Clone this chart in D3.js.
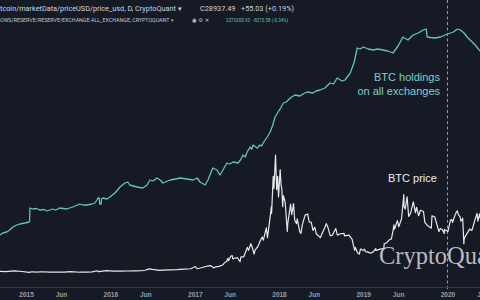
<!DOCTYPE html>
<html>
<head>
<meta charset="utf-8">
<script src="https://cdn.jsdelivr.net/npm/d3@7"></script>
<style>
  html, body { margin: 0; padding: 0; background: #161a25; }
  svg { display: block; }
</style>
</head>
<body>
<div id="chart"></div>
<script>
// BTC held on all exchanges (reserve)
const holdings = [
  ["2014-09-10", 550000], ["2014-09-22", 570000], ["2014-10-09", 580000], ["2014-10-22", 600000],
  ["2014-11-05", 630000], ["2014-11-22", 650000], ["2014-12-05", 660000], ["2014-12-27", 670000],
  ["2015-01-14", 680000], ["2015-01-16", 690000], ["2015-01-18", 820000], ["2015-02-01", 810000],
  ["2015-02-15", 815000], ["2015-03-01", 800000], ["2015-03-20", 805000], ["2015-04-01", 790000],
  ["2015-04-26", 810000], ["2015-05-10", 800000], ["2015-05-26", 820000], ["2015-06-26", 810000],
  ["2015-07-22", 830000], ["2015-08-22", 860000], ["2015-09-04", 850000], ["2015-09-21", 850000],
  ["2015-10-13", 860000], ["2015-10-26", 870000], ["2015-11-04", 900000], ["2015-11-08", 920000],
  ["2015-11-14", 920000], ["2015-11-16", 860000], ["2015-11-22", 860000], ["2015-11-24", 910000],
  ["2015-11-30", 920000], ["2015-12-17", 910000], ["2015-12-30", 930000], ["2016-01-21", 970000],
  ["2016-02-12", 1030000], ["2016-03-04", 1070000], ["2016-03-17", 1080000], ["2016-03-25", 1050000],
  ["2016-04-25", 1030000], ["2016-05-21", 1020000], ["2016-06-08", 1050000], ["2016-06-21", 1100000],
  ["2016-07-05", 1090000], ["2016-07-21", 1120000], ["2016-08-04", 1100000], ["2016-08-16", 1070000],
  ["2016-09-16", 1100000], ["2016-10-10", 1110000], ["2016-10-29", 1120000], ["2016-11-28", 1110000],
  ["2016-12-24", 1100000], ["2017-01-11", 1120000], ["2017-01-24", 1080000], ["2017-02-15", 1050000],
  ["2017-02-27", 1100000], ["2017-03-20", 1220000], ["2017-04-07", 1200000], ["2017-04-20", 1150000],
  ["2017-05-03", 1200000], ["2017-05-20", 1270000], ["2017-06-01", 1260000], ["2017-06-16", 1280000],
  ["2017-07-07", 1270000], ["2017-07-18", 1300000], ["2017-07-29", 1350000], ["2017-08-08", 1330000],
  ["2017-08-16", 1380000], ["2017-08-29", 1430000], ["2017-09-05", 1410000], ["2017-09-11", 1450000],
  ["2017-09-28", 1420000], ["2017-10-11", 1450000], ["2017-10-18", 1440000], ["2017-10-24", 1470000],
  ["2017-11-11", 1530000], ["2017-11-24", 1580000], ["2017-12-05", 1650000], ["2017-12-15", 1730000],
  ["2017-12-28", 1780000], ["2018-01-08", 1820000], ["2018-01-20", 1870000], ["2018-02-01", 1880000],
  ["2018-02-10", 1900000], ["2018-02-25", 1930000], ["2018-03-11", 1950000], ["2018-04-02", 1940000],
  ["2018-04-15", 1960000], ["2018-05-02", 1980000], ["2018-05-28", 1970000], ["2018-06-10", 1990000],
  ["2018-06-28", 2000000], ["2018-07-19", 2020000], ["2018-08-10", 2070000], ["2018-08-25", 2060000],
  ["2018-09-10", 2120000], ["2018-10-01", 2090000], ["2018-10-14", 2100000], ["2018-11-06", 2170000],
  ["2018-11-23", 2280000], ["2018-12-06", 2420000], ["2018-12-18", 2410000], ["2019-01-02", 2430000],
  ["2019-01-23", 2410000], ["2019-02-13", 2400000], ["2019-03-05", 2410000], ["2019-03-27", 2400000],
  ["2019-04-18", 2390000], ["2019-05-10", 2370000], ["2019-06-01", 2440000], ["2019-06-22", 2530000],
  ["2019-07-14", 2500000], ["2019-08-05", 2550000], ["2019-08-27", 2570000], ["2019-09-18", 2600000],
  ["2019-10-01", 2610000], ["2019-10-05", 2530000], ["2019-10-20", 2525000], ["2019-11-09", 2520000],
  ["2019-12-01", 2530000], ["2020-01-01", 2560000], ["2020-01-27", 2580000], ["2020-02-13", 2610000],
  ["2020-02-26", 2600000], ["2020-03-13", 2570000], ["2020-03-26", 2530000], ["2020-04-17", 2480000],
  ["2020-05-04", 2440000], ["2020-05-21", 2390000]
];

// BTC price in USD
const price = [
  ["2014-09-10", 350], ["2014-10-05", 320], ["2014-11-12", 420], ["2014-12-15", 330],
  ["2015-01-14", 180], ["2015-01-26", 290], ["2015-02-15", 240], ["2015-03-10", 290],
  ["2015-04-14", 220], ["2015-05-15", 240], ["2015-06-15", 230], ["2015-07-12", 310],
  ["2015-08-24", 210], ["2015-09-15", 230], ["2015-10-15", 260], ["2015-11-04", 450],
  ["2015-11-11", 310], ["2015-12-16", 460], ["2016-01-15", 380], ["2016-02-15", 400],
  ["2016-03-15", 415], ["2016-04-15", 430], ["2016-05-15", 455], ["2016-05-31", 530],
  ["2016-06-17", 760], ["2016-07-01", 670], ["2016-08-02", 520], ["2016-08-15", 570],
  ["2016-09-15", 610], ["2016-10-15", 640], ["2016-11-15", 710], ["2016-12-15", 780],
  ["2017-01-04", 1150], ["2017-01-11", 780], ["2017-01-25", 900], ["2017-02-23", 1200],
  ["2017-03-10", 1300], ["2017-03-24", 930], ["2017-04-01", 1080], ["2017-04-15", 1180],
  ["2017-04-30", 1350], ["2017-05-10", 1750], ["2017-05-20", 2050], ["2017-05-25", 2500],
  ["2017-05-27", 2100], ["2017-06-06", 2850], ["2017-06-12", 2950], ["2017-06-15", 2400],
  ["2017-06-25", 2550], ["2017-07-05", 2600], ["2017-07-16", 1930], ["2017-07-20", 2750],
  ["2017-08-01", 2750], ["2017-08-08", 3400], ["2017-08-17", 4300], ["2017-08-22", 3800],
  ["2017-09-01", 4900], ["2017-09-08", 4200], ["2017-09-15", 3200], ["2017-09-20", 3900],
  ["2017-10-01", 4400], ["2017-10-12", 5400], ["2017-10-20", 6000], ["2017-10-25", 5500],
  ["2017-11-07", 7500], ["2017-11-12", 5900], ["2017-11-20", 8200], ["2017-11-29", 11000],
  ["2017-11-30", 9900], ["2017-12-07", 16000], ["2017-12-10", 14000], ["2017-12-17", 19500],
  ["2017-12-22", 13800], ["2017-12-26", 16000], ["2017-12-30", 12600], ["2018-01-06", 17100],
  ["2018-01-10", 14500], ["2018-01-13", 14000], ["2018-01-17", 11000], ["2018-01-20", 12800],
  ["2018-01-28", 11700], ["2018-02-02", 8900], ["2018-02-06", 6900], ["2018-02-08", 8200],
  ["2018-02-20", 11400], ["2018-02-25", 9700], ["2018-03-05", 11500], ["2018-03-10", 8800],
  ["2018-03-18", 8200], ["2018-03-21", 9000], ["2018-04-01", 6900], ["2018-04-06", 6600],
  ["2018-04-12", 8000], ["2018-04-24", 9600], ["2018-05-05", 9800], ["2018-05-12", 8500],
  ["2018-05-21", 8400], ["2018-05-28", 7100], ["2018-06-05", 7600], ["2018-06-12", 6500],
  ["2018-06-24", 6100], ["2018-06-29", 5900], ["2018-07-08", 6700], ["2018-07-17", 7400],
  ["2018-07-25", 8200], ["2018-08-01", 7600], ["2018-08-10", 6300], ["2018-08-14", 6200],
  ["2018-08-20", 6300], ["2018-09-04", 7400], ["2018-09-11", 6300], ["2018-09-20", 6500],
  ["2018-10-10", 6600], ["2018-10-12", 6200], ["2018-10-31", 6300], ["2018-11-14", 5600],
  ["2018-11-19", 4700], ["2018-11-25", 3800], ["2018-11-28", 4300], ["2018-12-07", 3400],
  ["2018-12-15", 3200], ["2018-12-20", 4000], ["2018-12-24", 4000], ["2018-12-29", 3800],
  ["2019-01-07", 4000], ["2019-01-10", 3600], ["2019-01-20", 3550], ["2019-01-29", 3400],
  ["2019-02-07", 3400], ["2019-02-17", 3700], ["2019-02-24", 4100], ["2019-02-25", 3800],
  ["2019-03-20", 4050], ["2019-03-31", 4100], ["2019-04-02", 4900], ["2019-04-12", 5050],
  ["2019-04-23", 5500], ["2019-05-03", 5700], ["2019-05-11", 7200], ["2019-05-14", 8000],
  ["2019-05-17", 7300], ["2019-05-29", 8700], ["2019-06-04", 7700], ["2019-06-16", 9000],
  ["2019-06-26", 13000], ["2019-06-27", 11000], ["2019-07-02", 10600], ["2019-07-10", 12600],
  ["2019-07-17", 9400], ["2019-07-25", 9900], ["2019-08-06", 11800], ["2019-08-15", 10000],
  ["2019-08-20", 10900], ["2019-08-29", 9500], ["2019-09-06", 10400], ["2019-09-19", 10200],
  ["2019-09-25", 8400], ["2019-10-06", 7900], ["2019-10-23", 7450], ["2019-10-26", 9500],
  ["2019-11-07", 9300], ["2019-11-22", 7300], ["2019-11-25", 6900], ["2019-12-01", 7400],
  ["2019-12-10", 7200], ["2019-12-18", 6600], ["2019-12-19", 7250], ["2020-01-03", 6900],
  ["2020-01-14", 8800], ["2020-01-19", 8900], ["2020-01-23", 8400], ["2020-02-01", 9400],
  ["2020-02-09", 10150], ["2020-02-13", 10300], ["2020-02-17", 9700], ["2020-02-25", 9300],
  ["2020-02-28", 8600], ["2020-03-07", 9100], ["2020-03-12", 4900], ["2020-03-13", 5600],
  ["2020-03-19", 6200], ["2020-03-23", 6400], ["2020-04-06", 7300], ["2020-04-16", 7100],
  ["2020-04-29", 8800], ["2020-05-08", 9900], ["2020-05-12", 8600], ["2020-05-19", 9800],
  ["2020-05-22", 9100]
];

// time axis labels
const tickDates = ["2015-01-01", "2015-06-01", "2016-01-01", "2016-06-01", "2017-01-01", "2017-06-01",
  "2018-01-01", "2018-06-01", "2019-01-01", "2019-06-01", "2020-01-01", "2020-06-01"];

const crosshairDate = "2020-01-01";

// legend rows at the top
const priceTitle = "tcoin/marketData/priceUSD/price_usd, D, CryptoQuant \u25BE";
const priceClose = "C28937.49";
const priceChange = "+55.03 (+0.19%)";
const reserveTitle = "OWS/RESERVE/RESERVE/EXCHANGE-ALL_EXCHANGE, CRYPTOQUANT \u25BE";
const reserveLast = "2373305.93";
const reserveChange = "-8215.58 (-0.34%)";

const width = 480;
const height = 300;
const axisY = 287;
const bg = "#161a25";
const teal = "#62c3be";
const white = "#e8e8ea";

const parse = d3.timeParse("%Y-%m-%d");

const x = d3.scaleTime()
    .domain([parse("2014-09-10"), parse("2020-05-21")])
    .range([0, width]);
const yHold = d3.scaleLinear().domain([400000, 2700000]).range([250, 20]);
const yPrice = d3.scaleLinear().domain([0, 45000]).range([273.5, 0]);

const svg = d3.select("#chart").append("svg")
    .attr("width", width)
    .attr("height", height)
    .attr("viewBox", [0, 0, width, height])
    .style("background", bg)
    .attr("font-family", "Roboto, 'Noto Sans', sans-serif");

svg.append("rect").attr("width", width).attr("height", height).attr("fill", bg);

svg.append("clipPath").attr("id", "plot")
  .append("rect").attr("width", width).attr("height", axisY);

// crosshair
svg.append("line")
    .attr("x1", x(parse(crosshairDate))).attr("x2", x(parse(crosshairDate)))
    .attr("y1", 0).attr("y2", 291)
    .attr("stroke", "#a9acb5")
    .attr("stroke-width", 0.9)
    .attr("stroke-dasharray", "3,2.5");

// watermark (cut by the right edge, as in the screenshot)
svg.append("text")
    .attr("x", 379).attr("y", 264)
    .attr("font-family", "'Liberation Serif', 'DejaVu Serif', serif")
    .attr("font-size", 24.5)
    .attr("fill", "#cfd0d4")
    .attr("fill-opacity", 0.9)
    .text("CryptoQuant");

const plot = svg.append("g").attr("clip-path", "url(#plot)");

plot.append("path")
    .datum(holdings)
    .attr("fill", "none")
    .attr("stroke", teal)
    .attr("stroke-width", 1.3)
    .attr("stroke-linejoin", "round")
    .attr("d", d3.line().x(d => x(parse(d[0]))).y(d => yHold(d[1])));

plot.append("path")
    .datum(price)
    .attr("fill", "none")
    .attr("stroke", white)
    .attr("stroke-width", 1.2)
    .attr("stroke-linejoin", "round")
    .attr("d", d3.line().x(d => x(parse(d[0]))).y(d => yPrice(d[1])));

// annotations
svg.append("text")
    .attr("text-anchor", "end").attr("font-size", 11).attr("fill", "#7ccfca")
    .attr("font-family", "'Liberation Sans', Arial, sans-serif")
  .selectAll("tspan")
  .data(["BTC holdings", "on all exchanges"])
  .join("tspan")
    .attr("x", 440)
    .attr("y", (d, i) => 81 + i * 14)
    .text(d => d);

svg.append("text")
    .attr("x", 388).attr("y", 182)
    .attr("font-size", 11).attr("fill", "#eeeeee")
    .attr("font-family", "'Liberation Sans', Arial, sans-serif")
    .text("BTC price");

// time axis
const axis = svg.append("g")
    .attr("transform", `translate(0,${axisY})`)
    .call(d3.axisBottom(x)
      .tickValues(tickDates.map(parse))
      .tickFormat(d => d.getMonth() === 0 ? d3.timeFormat("%Y")(d) : d3.timeFormat("%b")(d))
      .tickSize(0)
      .tickPadding(5));
axis.select(".domain").attr("stroke", "#353945").attr("stroke-width", 1);
axis.selectAll("text")
    .attr("fill", "#9a9ea8")
    .attr("font-size", 6.5)
    .attr("font-weight", "bold");

// legend rows
const row1 = svg.append("g").attr("font-size", 7.3).attr("fill", "#d1d4dc");
row1.append("text").attr("x", 0).attr("y", 11).text(priceTitle);
row1.append("text").attr("x", 200).attr("y", 11).text(priceClose);
row1.append("text").attr("x", 241).attr("y", 11).text(priceChange);

const row2 = svg.append("g").attr("font-size", 5.3).attr("fill", "#c3c6ce");
row2.append("text").attr("x", 0).attr("y", 22).text(reserveTitle);
row2.append("text").attr("x", 192).attr("y", 22).attr("font-family", "'DejaVu Sans', sans-serif")
    .text("\u25C9 \u2699 \u2715");
row2.append("text").attr("x", 226).attr("y", 22).attr("font-size", 4.5).attr("fill", teal).text(reserveLast);
row2.append("text").attr("x", 253).attr("y", 22).attr("font-size", 4.5).attr("fill", teal).text(reserveChange);
</script>
</body>
</html>
